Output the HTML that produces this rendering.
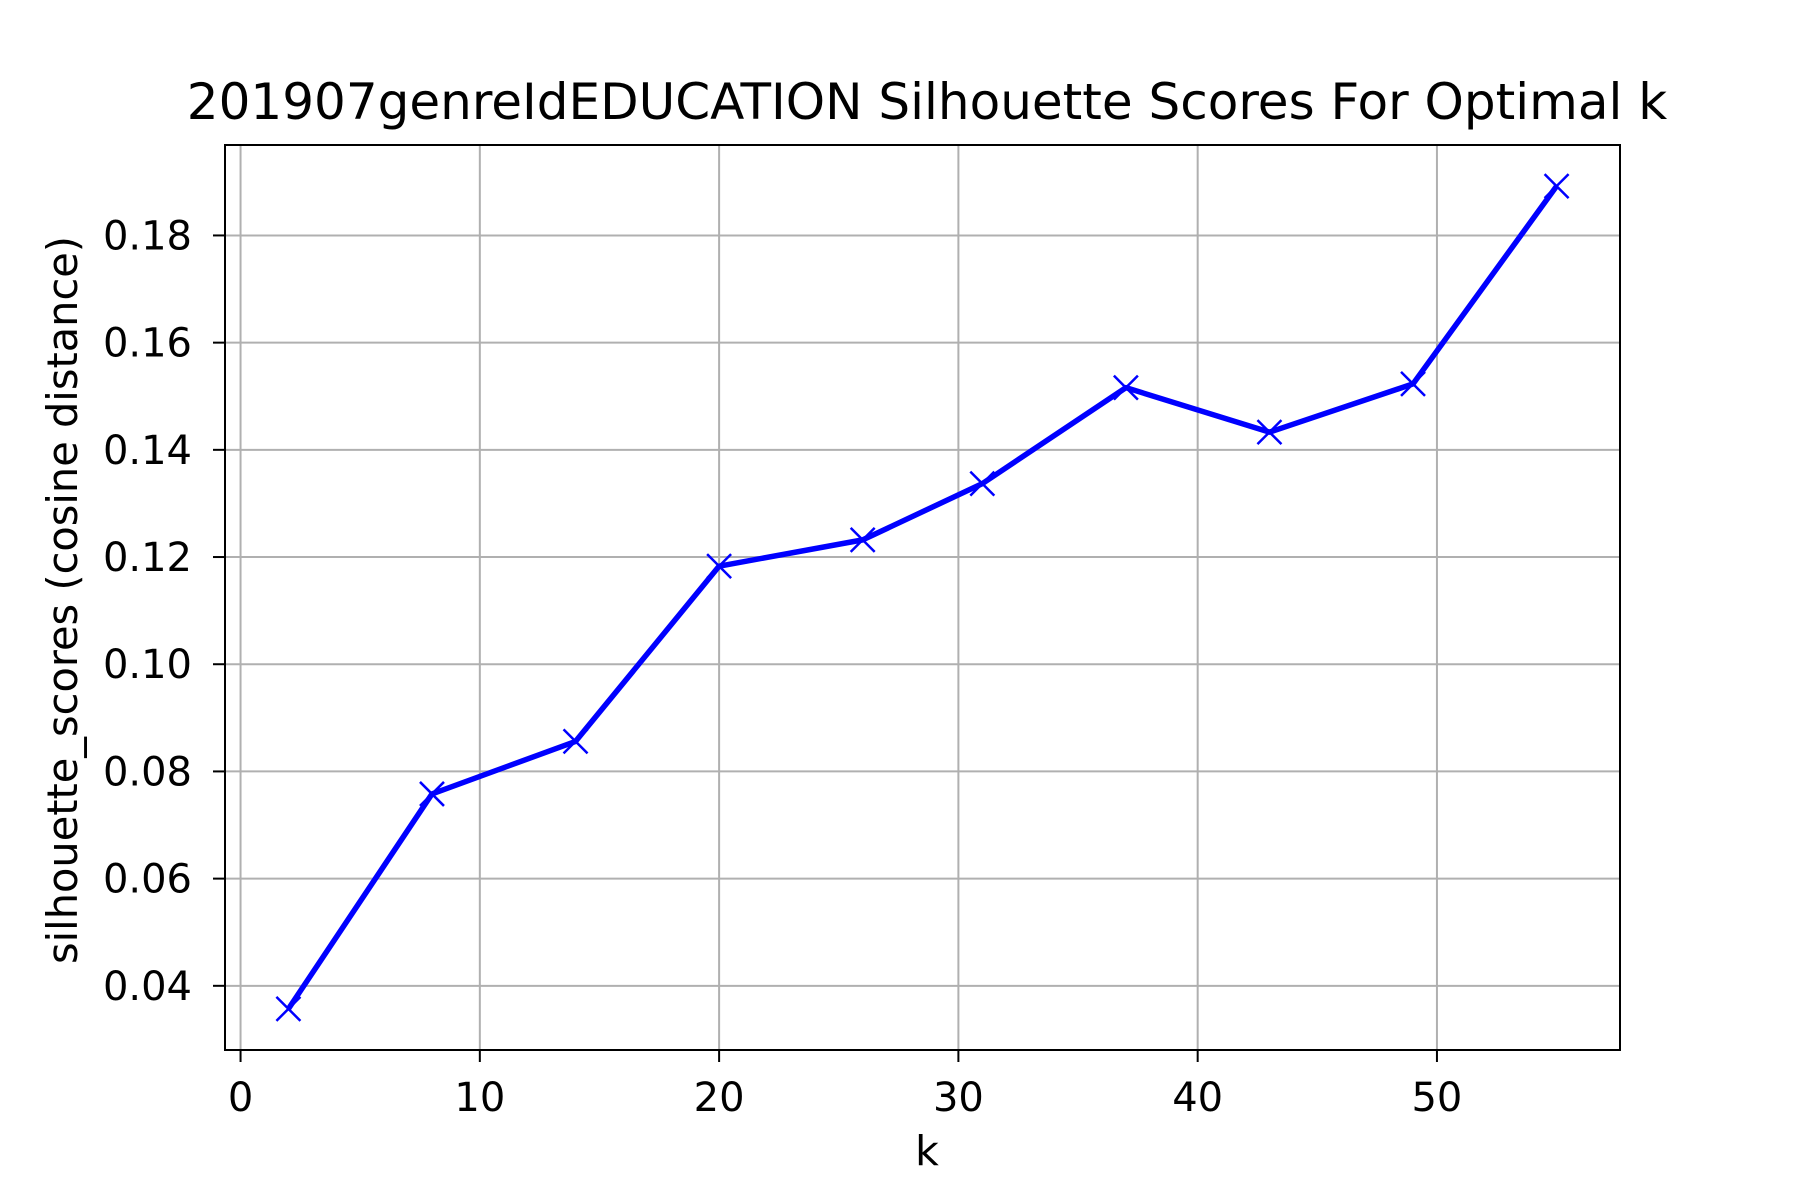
<!DOCTYPE html>
<html><head><meta charset="utf-8"><style>html,body{margin:0;padding:0;background:#fff}svg{display:block}</style></head>
<body>
<svg id="chart" width="1800" height="1200" xmlns="http://www.w3.org/2000/svg" font-family="DejaVu Sans, Liberation Sans, sans-serif">
<rect width="1800" height="1200" fill="#fff"/>
<text x="927" y="119" font-size="50" text-anchor="middle">201907genreIdEDUCATION Silhouette Scores For Optimal k</text>
<g id="grid"></g>
<g id="ticks"></g>
<g id="series"></g>
<rect x="225" y="145" width="1395" height="905" fill="none" stroke="#000" stroke-width="2"/>
<text x="927" y="1165" font-size="41" text-anchor="middle">k</text>
<text transform="translate(77,600) rotate(-90)" font-size="41.5" text-anchor="middle">silhouette_scores (cosine distance)</text>
</svg>
<script>
const kValues = [2, 8, 14, 20, 26, 31, 37, 43, 49, 55];
const scores = [0.0357, 0.0758, 0.0856, 0.1183, 0.1232, 0.1337, 0.1516, 0.1433, 0.1523, 0.1892];
const xTicks = [0, 10, 20, 30, 40, 50];
const yTicks = [0.04, 0.06, 0.08, 0.10, 0.12, 0.14, 0.16, 0.18];
const yTickLabels = ["0.04", "0.06", "0.08", "0.10", "0.12", "0.14", "0.16", "0.18"];

const L=225,R=1620,T=145,B=1050;
const xmin=Math.min(...kValues),xmax=Math.max(...kValues),xm=(xmax-xmin)*0.05;
const ymin=Math.min(...scores),ymax=Math.max(...scores),ym=(ymax-ymin)*0.05;
const X=v=>L+(v-(xmin-xm))/((xmax+xm)-(xmin-xm))*(R-L);
const Y=v=>B-(v-(ymin-ym))/((ymax+ym)-(ymin-ym))*(B-T);
const NS="http://www.w3.org/2000/svg";
function mk(tag,attrs,parent){const e=document.createElementNS(NS,tag);for(const k in attrs)e.setAttribute(k,attrs[k]);parent.appendChild(e);return e;}
const grid=document.getElementById('grid'),ticks=document.getElementById('ticks'),series=document.getElementById('series');
xTicks.forEach(t=>{const x=X(t);
 let g=mk('line',{x1:x,x2:x,y1:T,y2:B,stroke:'#b0b0b0','stroke-width':2},grid);
 
 
 let tk=mk('line',{x1:x,x2:x,y1:B,y2:B+12,stroke:'#000','stroke-width':2},ticks);
 
 
 let tx=mk('text',{x:x,y:B+61,'font-size':40,'text-anchor':'middle'},ticks);tx.textContent=t;
 
 
});
yTicks.forEach((t,i)=>{const y=Y(t);
 let g=mk('line',{x1:L,x2:R,y1:y,y2:y,stroke:'#b0b0b0','stroke-width':2},grid);
 
 
 let tk=mk('line',{x1:L-12,x2:L,y1:y,y2:y,stroke:'#000','stroke-width':2},ticks);
 
 
 let tx=mk('text',{x:L-33,y:y+14,'font-size':40,'text-anchor':'end'},ticks);tx.textContent=yTickLabels[i];
 
 
});
const pts=kValues.map((k,i)=>X(k)+','+Y(scores[i])).join(' ');
const pl=mk('polyline',{points:pts,fill:'none',stroke:'#0000ff','stroke-width':5.5,'stroke-linejoin':'round'},series);


kValues.forEach((k,i)=>{const x=X(k),y=Y(scores[i]),s=12;
 const m=mk('path',{d:`M${x-s},${y-s}L${x+s},${y+s}M${x-s},${y+s}L${x+s},${y-s}`,stroke:'#0000ff','stroke-width':2.5,fill:'none'},series);
 
 
});
</script>
</body></html>
